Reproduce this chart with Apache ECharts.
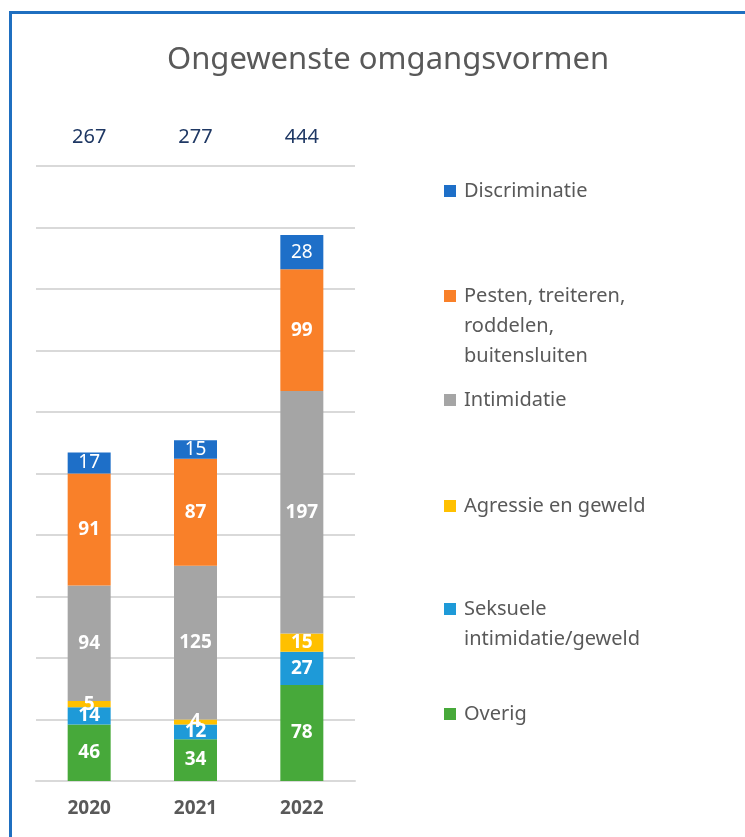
<!DOCTYPE html>
<html>
<head>
<meta charset="utf-8">
<script src="https://cdn.jsdelivr.net/npm/echarts@6/dist/echarts.min.js"></script>
<style>
  html, body { margin: 0; padding: 0; background: #fff; }
  #chart { width: 745px; height: 837px; }
</style>
</head>
<body>
<div id="chart"></div>
<script>
// jaren en totalen
const years = ['2020', '2021', '2022']
const totals = ['267', '277', '444']

// categorieen, van onder naar boven gestapeld
const overig = [46, 34, 78]
const seksueel = [14, 12, 27]
const agressie = [5, 4, 15]
const intimidatie = [94, 125, 197]
const pesten = [91, 87, 99]
const discriminatie = [17, 15, 28]

const names = {
  overig: 'Overig',
  seksueel: 'Seksuele\nintimidatie/geweld',
  agressie: 'Agressie en geweld',
  intimidatie: 'Intimidatie',
  pesten: 'Pesten, treiteren,\nroddelen,\nbuitensluiten',
  discriminatie: 'Discriminatie'
}

const font = 'Noto Sans'
const lineH = 30
const chart = echarts.init(document.getElementById('chart'))

function bar(name, data, color, bold) {
  return {
    name: name,
    type: 'bar',
    stack: 'totaal',
    data: data,
    barWidth: 43,
    itemStyle: { color: color },
    label: {
      show: true,
      position: 'inside',
      color: '#fff',
      fontFamily: font,
      fontSize: 19,
      fontWeight: bold ? 'bold' : 'normal'
    }
  }
}

// legenda-item; het blokje staat naast de eerste regel
function legendItem(name, top, lines) {
  let h = lines * lineH
  return {
    data: [name],
    orient: 'vertical',
    left: 444,
    top: top,
    padding: 0,
    itemWidth: 15,
    itemHeight: h,
    icon: 'path://M0 0 M15 ' + h + ' M0 9 L12 9 L12 21 L0 21 Z',
    selectedMode: false,
    textStyle: {
      color: '#595959',
      fontFamily: font,
      fontSize: 20,
      lineHeight: lineH
    }
  }
}

let option = {
  backgroundColor: '#fff',
  animation: false,
  title: {
    text: 'Ongewenste omgangsvormen',
    left: 383,
    textAlign: 'center',
    top: 40,
    textStyle: {
      color: '#595959',
      fontFamily: font,
      fontSize: 31,
      fontWeight: 'normal'
    }
  },
  graphic: [
    {
      type: 'polyline',
      shape: { points: [[10.5, 837], [10.5, 12.5], [745, 12.5]] },
      style: { stroke: '#1F6FC0', lineWidth: 3, fill: null }
    }
  ],
  legend: [
    legendItem(names.discriminatie, 176, 1),
    legendItem(names.pesten, 281, 3),
    legendItem(names.intimidatie, 385, 1),
    legendItem(names.agressie, 491, 1),
    legendItem(names.seksueel, 594, 2),
    legendItem(names.overig, 699, 1)
  ],
  grid: {
    left: 36,
    right: 390,
    top: 166,
    bottom: 56
  },
  xAxis: [
    {
      type: 'category',
      data: years,
      axisLine: { lineStyle: { color: '#D9D9D9', width: 2 } },
      axisTick: { show: false },
      axisLabel: {
        color: '#595959',
        fontFamily: font,
        fontSize: 19,
        fontWeight: 'bold',
        margin: 18
      }
    },
    {
      type: 'category',
      position: 'top',
      data: totals,
      axisLine: { show: false },
      axisTick: { show: false },
      axisLabel: {
        color: '#1F3864',
        fontFamily: font,
        fontSize: 20,
        margin: 19
      }
    }
  ],
  yAxis: {
    type: 'value',
    min: 0,
    max: 500,
    interval: 50,
    axisLabel: { show: false },
    axisLine: { show: false },
    axisTick: { show: false },
    splitLine: { lineStyle: { color: '#D9D9D9', width: 2 } }
  },
  series: [
    bar(names.overig, overig, '#47A93A', true),
    bar(names.seksueel, seksueel, '#1E9AD8', true),
    bar(names.agressie, agressie, '#FFC000', true),
    bar(names.intimidatie, intimidatie, '#A5A5A5', true),
    bar(names.pesten, pesten, '#F98029', true),
    bar(names.discriminatie, discriminatie, '#1E6FC8', false)
  ]
}

chart.setOption(option)
</script>
</body>
</html>
